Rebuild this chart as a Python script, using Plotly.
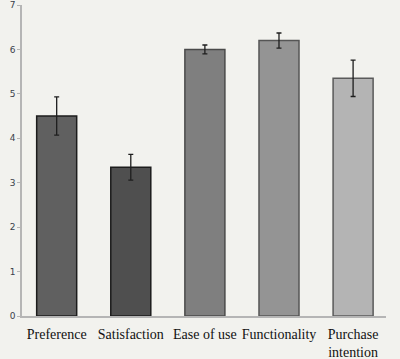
import plotly.graph_objects as go

categories = ["Preference", "Satisfaction", "Ease of use", "Functionality", "Purchase<br>intention"]
means = [4.5, 3.35, 6.0, 6.2, 5.35]
errors = [0.43, 0.29, 0.1, 0.17, 0.41]
fills = ["#606060", "#4f4f4f", "#7f7f7f", "#949494", "#b4b4b4"]
outlines = ["#1c1c1c", "#1c1c1c", "#4a4a4a", "#555555", "#5a5a5a"]
y_ticks = [0, 1, 2, 3, 4, 5, 6, 7]

bg = "#f2f2ee"

fig = go.Figure(go.Bar(
    x=categories,
    y=means,
    width=0.54,
    marker=dict(color=fills, line=dict(color=outlines, width=1.5)),
    error_y=dict(type="data", array=errors, color="#1e1e1e", thickness=1.3, width=2.5),
    hoverinfo="skip",
))

fig.update_layout(
    width=400, height=359,
    margin=dict(l=22, r=14, t=5, b=43),
    paper_bgcolor=bg, plot_bgcolor=bg,
    showlegend=False,
    xaxis=dict(
        type="category",
        automargin=False,
        range=[-0.468, 4.444],
        showline=True, linecolor="#b5b5b5", linewidth=1.5,
        showgrid=False, zeroline=False,
        ticks="", ticklabelstandoff=4,
        tickfont=dict(family="Liberation Serif", size=14, color="#111111"),
    ),
    yaxis=dict(
        automargin=False,
        range=[0, 7],
        tickvals=y_ticks,
        showline=True, linecolor="#b5b5b5", linewidth=1.5,
        showgrid=False, zeroline=False,
        ticks="outside", ticklen=3, tickcolor="#b5b5b5",
        tickfont=dict(family="DejaVu Sans", size=9, color="#3a3f4a"),
    ),
)

fig.write_html(
    "out.html",
    config={"displayModeBar": False},
    post_script="document.body.style.margin='0';document.body.style.background='%s';" % bg,
)
